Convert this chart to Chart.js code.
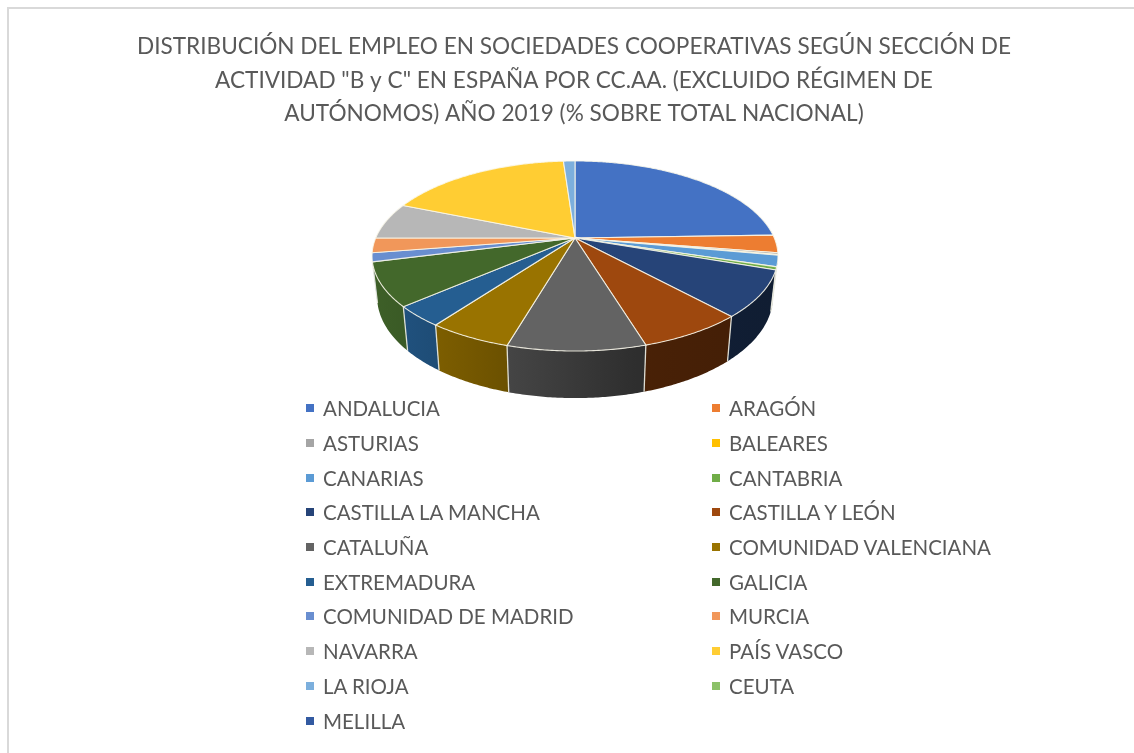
<!DOCTYPE html>
<html lang="es">
<head>
<meta charset="utf-8">
<title>Empleo en sociedades cooperativas</title>
<script src="https://cdn.jsdelivr.net/npm/chart.js@4"></script>
<style>
    html, body { margin: 0; padding: 0; background: #fff; overflow: hidden; }
    #frame {
        position: absolute; left: 7px; top: 7px; width: 1127px; height: 746px;
        border-top: 2px solid #d9d9d9; border-left: 2px solid #d9d9d9;
    }
    #pie { position: absolute; left: 8px; top: 9px; }
    #legend {
        position: absolute; left: 306px; top: 391px; width: 828px;
        display: grid; grid-template-columns: 406px 1fr; grid-auto-rows: 34.7px;
        font: 20.5px Lato, sans-serif; color: #595959;
    }
    #legend div { display: flex; align-items: center; white-space: nowrap; }
    #legend i { display: block; width: 8px; height: 8px; margin-right: 9px; }
</style>
</head>
<body>
<div id="frame"></div>
<canvas id="pie" width="1132" height="744"></canvas>
<div id="legend"></div>
<script>
const titleLines = [
    'DISTRIBUCIÓN DEL EMPLEO EN SOCIEDADES COOPERATIVAS SEGÚN SECCIÓN DE',
    'ACTIVIDAD "B y C" EN ESPAÑA POR CC.AA. (EXCLUIDO RÉGIMEN DE',
    'AUTÓNOMOS) AÑO 2019 (% SOBRE TOTAL NACIONAL)'
];
const regions = [
    'ANDALUCIA', 'ARAGÓN', 'ASTURIAS', 'BALEARES', 'CANARIAS', 'CANTABRIA',
    'CASTILLA LA MANCHA', 'CASTILLA Y LEÓN', 'CATALUÑA', 'COMUNIDAD VALENCIANA',
    'EXTREMADURA', 'GALICIA', 'COMUNIDAD DE MADRID', 'MURCIA', 'NAVARRA',
    'PAÍS VASCO', 'LA RIOJA', 'CEUTA', 'MELILLA'
];
const shares = [24.5, 3.0, 0.3, 0.1, 1.9, 0.5, 7.9, 7.1, 9.2, 5.6, 3.5, 7.4, 1.5, 2.5, 6.2, 17.7, 1.1, 0, 0];
const colors = [
    '#4472c4', '#ed7d31', '#a5a5a5', '#ffc000', '#5b9bd5', '#70ad47',
    '#264478', '#9e480e', '#636363', '#997300', '#255e91', '#43682b',
    '#698ed0', '#f1975a', '#b7b7b7', '#ffcd33', '#7cafdd', '#8cc168', '#335aa1'
];

// Perspective of the tilted disc, in canvas pixels
const apexX = 567, apexY = 229;
const radiusX = 199.3, radiusY = 91.6, tilt = 0.1895;
const rimY = apexY + 18;
const wallDrop = 40.7, wallGrow = 1.067, wallShrink = 0.975;

function topPoint(angle) {
    const w = 1 - tilt * Math.sin(angle);
    return {
        x: apexX + radiusX * Math.cos(angle) / w,
        y: apexY + radiusY * Math.sin(angle) / w
    };
}

function wallPoint(angle) {
    const p = topPoint(angle);
    return {
        x: apexX + (p.x - apexX) * wallShrink,
        y: rimY + (p.y - rimY) * wallGrow + wallDrop
    };
}

function shade(hex, f) {
    const n = parseInt(hex.slice(1), 16);
    const c = [n >> 16, (n >> 8) & 255, n & 255].map(v => Math.round(v * f));
    return 'rgb(' + c.join(',') + ')';
}

function arcSteps(a0, a1) {
    const n = Math.max(2, Math.ceil((a1 - a0) / 0.01));
    const out = [];
    for (let i = 0; i <= n; i++) out.push(a0 + (a1 - a0) * i / n);
    return out;
}

// Side walls first, then the top face on the same slice angles
const tiltedPie = {
    id: 'tiltedPie',
    beforeDatasetDraw(chart, args) {
        const ctx = chart.ctx;
        const arcs = chart.getDatasetMeta(args.index).data;
        const first = Math.asin(tilt), last = Math.PI - first;
        ctx.save();
        arcs.forEach((arc, i) => {
            const a0 = Math.max(arc.startAngle, first), a1 = Math.min(arc.endAngle, last);
            if (a1 <= a0) return;
            const steps = arcSteps(a0, a1);
            const grad = ctx.createLinearGradient(apexX - 205, 0, apexX + 205, 0);
            grad.addColorStop(0, shade(colors[i], 0.92));
            grad.addColorStop(0.25, shade(colors[i], 0.76));
            grad.addColorStop(0.42, shade(colors[i], 0.64));
            grad.addColorStop(0.65, shade(colors[i], 0.46));
            grad.addColorStop(1, shade(colors[i], 0.42));
            ctx.beginPath();
            steps.forEach((a, j) => {
                const p = topPoint(a);
                if (j === 0) ctx.moveTo(p.x, p.y); else ctx.lineTo(p.x, p.y);
            });
            steps.slice().reverse().forEach(a => {
                const p = wallPoint(a);
                ctx.lineTo(p.x, p.y);
            });
            ctx.closePath();
            ctx.fillStyle = grad;
            ctx.fill();
        });
        // dividers between the walls
        ctx.strokeStyle = 'rgba(235,235,225,0.9)';
        ctx.lineWidth = 1.3;
        arcs.forEach(arc => {
            if (arc.endAngle <= first || arc.endAngle >= last || arc.endAngle === arc.startAngle) return;
            const t = topPoint(arc.endAngle), b = wallPoint(arc.endAngle);
            ctx.beginPath();
            ctx.moveTo(t.x, t.y);
            ctx.lineTo(b.x, b.y);
            ctx.stroke();
        });
        arcs.forEach((arc, i) => {
            if (arc.endAngle === arc.startAngle) return;
            ctx.beginPath();
            ctx.moveTo(apexX, apexY);
            arcSteps(arc.startAngle, arc.endAngle).forEach(a => {
                const p = topPoint(a);
                ctx.lineTo(p.x, p.y);
            });
            ctx.closePath();
            ctx.fillStyle = colors[i];
            ctx.fill();
            ctx.strokeStyle = 'rgba(250,248,235,0.85)';
            ctx.lineWidth = 1.1;
            ctx.stroke();
        });
        ctx.restore();
        return false;
    }
};

const chart = new Chart(document.getElementById('pie'), {
    type: 'pie',
    plugins: [tiltedPie],
    data: {
        labels: regions,
        datasets: [{ data: shares, backgroundColor: colors }]
    },
    options: {
        responsive: false,
        animation: false,
        plugins: {
            legend: { display: false },
            tooltip: { enabled: false },
            title: {
                display: true,
                text: titleLines,
                color: '#595959',
                font: { family: 'Lato, sans-serif', size: 22.6, weight: 'normal', lineHeight: 1.485 },
                padding: { top: 21, bottom: 0 }
            }
        }
    }
});

// Legend in two columns, filled row by row from the chart's own labels
const legendBox = document.getElementById('legend');
chart.data.labels.forEach((label, i) => {
    const row = document.createElement('div');
    const mark = document.createElement('i');
    mark.style.background = colors[i];
    row.appendChild(mark);
    row.appendChild(document.createTextNode(label));
    legendBox.appendChild(row);
});
</script>
</body>
</html>
